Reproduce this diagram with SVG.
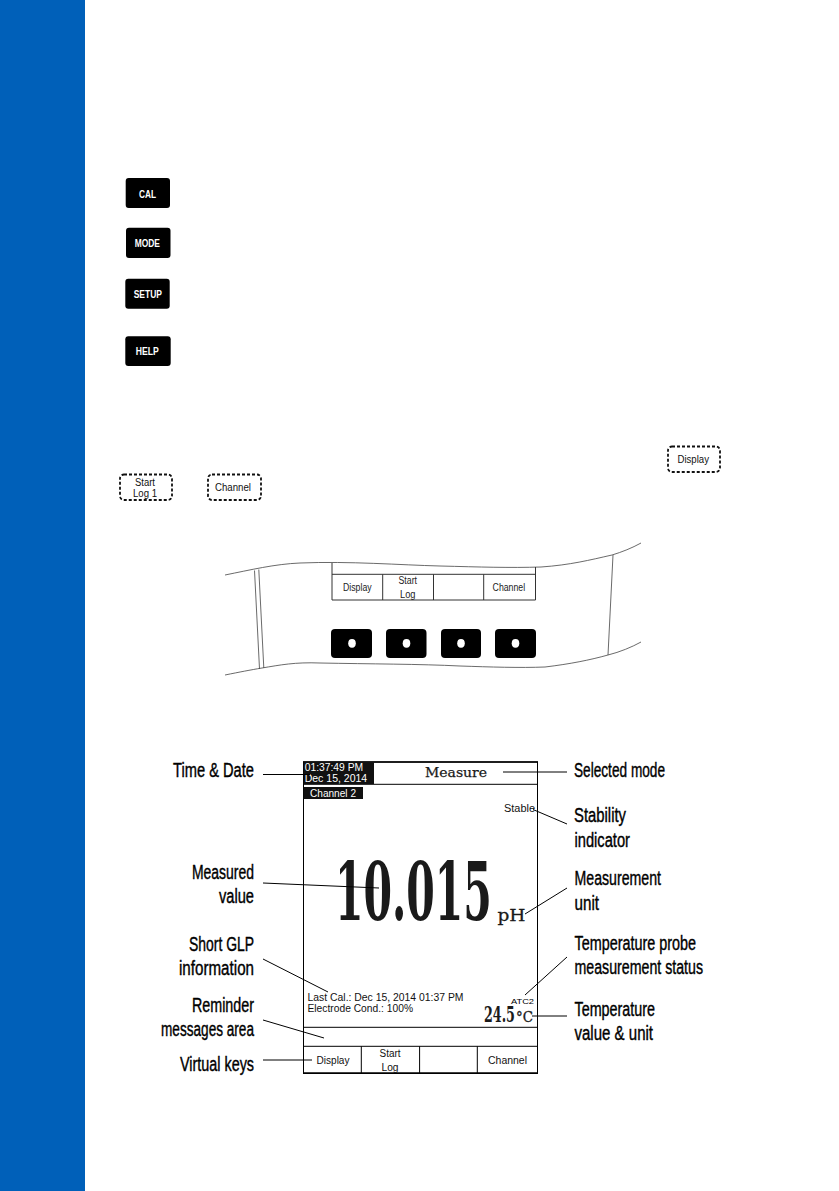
<svg xmlns="http://www.w3.org/2000/svg" width="839" height="1191" viewBox="0 0 839 1191">
<style>
text{font-family:"Liberation Sans",Arial,sans-serif;fill:#000}
.key{fill:#000}
.kt{font-size:11px;font-weight:bold;fill:#fff}
.dash{fill:#fff;stroke:#111;stroke-width:1.8;stroke-dasharray:3 2}
.dt{font-size:10px;fill:#111}
.lbl{font-size:20px;stroke:#000;stroke-width:.4}
.ln{fill:none;stroke:#000;stroke-width:1}
.th{fill:none;stroke:#444;stroke-width:.8}
.tc{font-size:10px;fill:#222}
.st{font-size:10px;fill:#111}
.wt{font-size:10.5px;fill:#fff}
.srf{font-family:"DejaVu Serif","Liberation Serif",serif;font-weight:bold;fill:#1a1a1a}
.mono{font-family:"DejaVu Serif",serif;fill:#1a1a1a}
</style>
<rect width="839" height="1191" fill="#fff"/>
<rect id="sidebar" x="0" y="0" width="85" height="1191" fill="#0060b9"/>

<g id="key-cal"><rect class="key" x="125.7" y="178" width="44.3" height="30" rx="3"/><text class="kt" x="139" y="197.5" textLength="17" lengthAdjust="spacingAndGlyphs">CAL</text></g>
<g id="key-mode"><rect class="key" x="126" y="227.7" width="44.5" height="30.3" rx="3"/><text class="kt" x="134.7" y="247" textLength="25.3" lengthAdjust="spacingAndGlyphs">MODE</text></g>
<g id="key-setup"><rect class="key" x="125.3" y="278.7" width="44.4" height="30" rx="3"/><text class="kt" x="133.7" y="298" textLength="28.3" lengthAdjust="spacingAndGlyphs">SETUP</text></g>
<g id="key-help"><rect class="key" x="125.3" y="336.3" width="45.4" height="29.7" rx="3"/><text class="kt" x="135.7" y="355.3" textLength="23" lengthAdjust="spacingAndGlyphs">HELP</text></g>

<g id="vk-display"><rect class="dash" x="668" y="446.5" width="52" height="25.5" rx="4"/><text class="dt" x="677.5" y="462.7" textLength="31.5" lengthAdjust="spacingAndGlyphs">Display</text></g>
<g id="vk-startlog"><rect class="dash" x="120" y="474.5" width="52" height="25.5" rx="4"/><text class="dt" x="135" y="485.5" textLength="20" lengthAdjust="spacingAndGlyphs">Start</text><text class="dt" x="133" y="496.7" textLength="24" lengthAdjust="spacingAndGlyphs">Log 1</text></g>
<g id="vk-channel"><rect class="dash" x="208" y="474.5" width="53" height="25.5" rx="4"/><text class="dt" x="215" y="491" textLength="36" lengthAdjust="spacingAndGlyphs">Channel</text></g>

<g id="device">
<path class="th" d="M225 575C250 570 275 564 300 563C350 561 400 565 440 566C480 567 510 568 541 567C570 565 590 560 612 555C622 552 632 548 641 543"/>
<path class="th" d="M225 675C240 672 250 670 262 668C280 665 295 662 320 663C370 664 420 664 460 666C490 667 520 668 545 667C570 664 590 660 608 655C620 652 632 647 641 642"/>
<path class="th" d="M254.5 570.5L259.5 669M258.8 569.5L263.8 668M613 555L608 655"/>
<path d="M332 563V600H535.5V567M332 574.3H535.5M382.7 574.3V600M433.5 574.3V600M483.7 574.3V600" fill="none" stroke="#333" stroke-width="1"/>
<text class="tc" x="343" y="591" textLength="28.6" lengthAdjust="spacingAndGlyphs">Display</text>
<text class="tc" x="398.5" y="584" textLength="18.5" lengthAdjust="spacingAndGlyphs">Start</text>
<text class="tc" x="400" y="598" textLength="15.5" lengthAdjust="spacingAndGlyphs">Log</text>
<text class="tc" x="492.6" y="591" textLength="32.5" lengthAdjust="spacingAndGlyphs">Channel</text>
<g fill="#000"><rect x="331" y="629" width="41" height="29" rx="4"/><rect x="386" y="629" width="40.5" height="29" rx="4"/><rect x="441" y="629" width="40" height="29" rx="4"/><rect x="495" y="629" width="41" height="29" rx="4"/></g>
<g fill="#fff"><ellipse cx="352" cy="643.3" rx="3.8" ry="4.4"/><ellipse cx="406.5" cy="643.3" rx="3.8" ry="4.4"/><ellipse cx="461" cy="643.3" rx="3.8" ry="4.4"/><ellipse cx="515.5" cy="643.3" rx="3.8" ry="4.4"/></g>
</g>

<g id="screen">
<rect x="303.5" y="762" width="234" height="311" fill="#fff" stroke="#000" stroke-width="1"/>
<path d="M303 762H538M303 1073.3H538" stroke="#000" stroke-width="1.6"/>
<path d="M303.5 784.3H537.5M303.5 1027.3H537.5M303.5 1046.3H537.5M361.3 1046.3V1073M419.6 1046.3V1073M477.3 1046.3V1073" stroke="#000" stroke-width="1" fill="none"/>
<rect x="303.5" y="762" width="70.5" height="22" fill="#111"/>
<rect x="303.5" y="787" width="59.5" height="12" fill="#111"/>
<text class="wt" x="304.7" y="770.6" textLength="58.5" lengthAdjust="spacingAndGlyphs">01:37:49 PM</text>
<text class="wt" x="304.7" y="782" textLength="62.5" lengthAdjust="spacingAndGlyphs">Dec 15, 2014</text>
<text class="wt" x="310" y="797" textLength="46" lengthAdjust="spacingAndGlyphs">Channel 2</text>
<text class="mono" x="425" y="777" font-size="13" stroke="#1a1a1a" stroke-width=".25" textLength="62" lengthAdjust="spacingAndGlyphs">Measure</text>
<text class="st" x="504" y="812" textLength="31" lengthAdjust="spacingAndGlyphs">Stable</text>
<text class="srf" transform="translate(335 920) scale(.5126 1)" font-size="80">10.015</text>
<text class="mono" x="497.5" y="920.5" font-size="17" stroke="#1a1a1a" stroke-width=".3" textLength="28" lengthAdjust="spacingAndGlyphs">pH</text>
<text class="st" x="307.5" y="1001" textLength="156" lengthAdjust="spacingAndGlyphs">Last Cal.: Dec 15, 2014 01:37 PM</text>
<text class="st" x="307.5" y="1012" textLength="105.5" lengthAdjust="spacingAndGlyphs">Electrode Cond.: 100%</text>
<text x="511" y="1004" style="font-size:8px" fill="#111" textLength="23" lengthAdjust="spacingAndGlyphs">ATC2</text>
<text class="srf" transform="translate(484 1021.5) scale(.553 1)" font-size="23">24.5</text>
<text class="mono" x="516" y="1022" font-size="14" stroke="#1a1a1a" stroke-width=".3" textLength="17" lengthAdjust="spacingAndGlyphs">°C</text>
<text class="st" x="316.5" y="1064" textLength="33" lengthAdjust="spacingAndGlyphs">Display</text>
<text class="st" x="379.5" y="1057" textLength="21" lengthAdjust="spacingAndGlyphs">Start</text>
<text class="st" x="381.5" y="1071" textLength="17" lengthAdjust="spacingAndGlyphs">Log</text>
<text class="st" x="488" y="1064" textLength="39" lengthAdjust="spacingAndGlyphs">Channel</text>
</g>

<g id="connectors">
<path class="ln" d="M263 774.5H310M503 772H567M533 809.5L567 824M525 914L567 888M525 995L567 957M532 1016H567M263 883L379 888M263 959L328 992M263 1020L324 1038M263 1060H312"/>
</g>

<g id="label-time"><text class="lbl" x="173" y="777" textLength="81" lengthAdjust="spacingAndGlyphs">Time &amp; Date</text></g>
<g id="label-measured"><text class="lbl" x="192" y="879" textLength="62" lengthAdjust="spacingAndGlyphs">Measured</text><text class="lbl" x="219" y="903" textLength="35" lengthAdjust="spacingAndGlyphs">value</text></g>
<g id="label-glp"><text class="lbl" x="189" y="951" textLength="65" lengthAdjust="spacingAndGlyphs">Short GLP</text><text class="lbl" x="179" y="975" textLength="75" lengthAdjust="spacingAndGlyphs">information</text></g>
<g id="label-reminder"><text class="lbl" x="192" y="1012" textLength="62" lengthAdjust="spacingAndGlyphs">Reminder</text><text class="lbl" x="161" y="1036" textLength="93" lengthAdjust="spacingAndGlyphs">messages area</text></g>
<g id="label-virtual"><text class="lbl" x="180" y="1071" textLength="74" lengthAdjust="spacingAndGlyphs">Virtual keys</text></g>
<g id="label-mode"><text class="lbl" x="574" y="777" textLength="91" lengthAdjust="spacingAndGlyphs">Selected mode</text></g>
<g id="label-stability"><text class="lbl" x="574" y="822" textLength="52" lengthAdjust="spacingAndGlyphs">Stability</text><text class="lbl" x="574.5" y="847" textLength="55.5" lengthAdjust="spacingAndGlyphs">indicator</text></g>
<g id="label-unit"><text class="lbl" x="574.5" y="885" textLength="86.5" lengthAdjust="spacingAndGlyphs">Measurement</text><text class="lbl" x="574.5" y="910" textLength="24.5" lengthAdjust="spacingAndGlyphs">unit</text></g>
<g id="label-probe"><text class="lbl" x="574.5" y="950" textLength="121.5" lengthAdjust="spacingAndGlyphs">Temperature probe</text><text class="lbl" x="574.5" y="974" textLength="128.5" lengthAdjust="spacingAndGlyphs">measurement status</text></g>
<g id="label-temp"><text class="lbl" x="574.5" y="1016" textLength="80.5" lengthAdjust="spacingAndGlyphs">Temperature</text><text class="lbl" x="574.5" y="1040" textLength="78.5" lengthAdjust="spacingAndGlyphs">value &amp; unit</text></g>
</svg>
